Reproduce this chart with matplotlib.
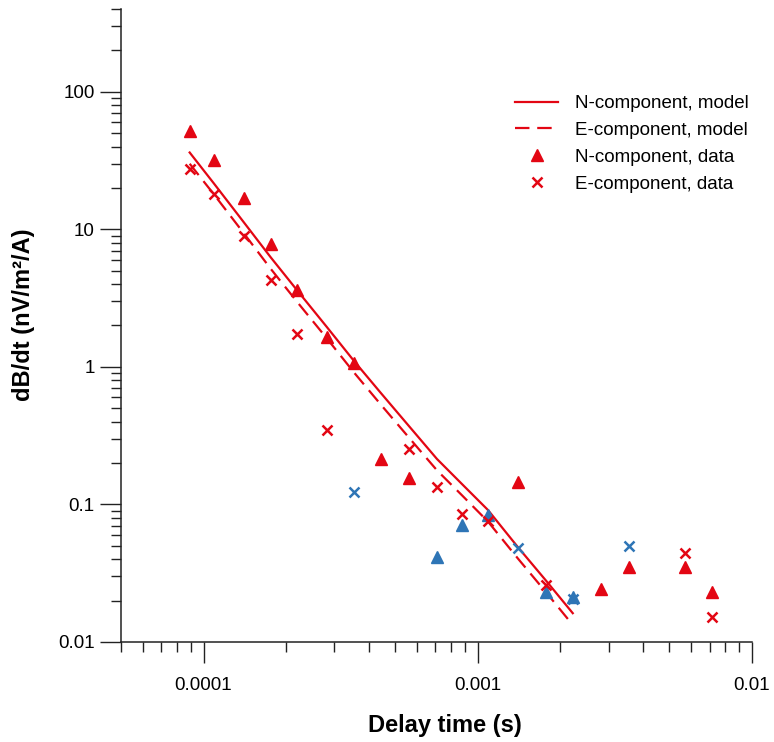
import numpy as np
import matplotlib
matplotlib.use('Agg')
import matplotlib.pyplot as plt
from matplotlib.ticker import LogLocator, FuncFormatter, NullFormatter

plt.rcParams['font.family'] = ['Liberation Sans', 'DejaVu Sans']

# delay times of the gates (s)
times = [8.9e-5, 1.09e-4, 1.40e-4, 1.76e-4, 2.20e-4, 2.81e-4, 3.53e-4, 4.42e-4,
         5.62e-4, 7.10e-4, 8.78e-4, 1.09e-3, 1.40e-3, 1.78e-3, 2.22e-3, 2.82e-3,
         3.57e-3, 5.70e-3, 7.16e-3]

# model curves (first 15 gates)
n_model = [36.2, 21.6, 11.3, 6.24, 3.58, 1.96, 1.11, 0.65, 0.37, 0.214,
           0.140, 0.091, 0.049, 0.0277, 0.0162]
e_model = [30.0, 18.0, 9.4, 5.15, 2.95, 1.62, 0.915, 0.535, 0.305, 0.177,
           0.116, 0.075, 0.0405, 0.0228, 0.0133]

# measured |dB/dt|, sign: 1 positive (red), -1 negative (blue), nan = not shown
n_data = [51.7, 31.8, 16.9, 7.8, 3.6, 1.65, 1.07, 0.214, 0.156, 0.0415,
          0.0708, 0.0838, 0.145, 0.0232, 0.0213, 0.0243, 0.035, 0.035, 0.0231]
n_sign = [1, 1, 1, 1, 1, 1, 1, 1, 1, -1, -1, -1, 1, -1, -1, 1, 1, 1, 1]
e_data = [27.4, 18.0, 8.97, 4.27, 1.73, 0.347, 0.124, np.nan, 0.251, 0.133,
          0.0859, 0.0757, 0.048, 0.026, 0.0205, np.nan, 0.0499, 0.0441, 0.0151]
e_sign = [1, 1, 1, 1, 1, 1, -1, 1, 1, 1, 1, 1, -1, 1, -1, 1, -1, 1, 1]

red = '#E30613'
blue = '#2E75B6'

t = np.array(times)
nd = np.array(n_data)
ed = np.array(e_data)
ns = np.array(n_sign)
es = np.array(e_sign)

fig = plt.figure(figsize=(7.74, 7.42), dpi=100)
ax = fig.add_axes([121/774, 1 - 642/742, (752-121)/774, (642-9)/742])

ax.plot(t[:len(n_model)], n_model, color=red, lw=1.6, label='N-component, model')
ax.plot(t[:len(e_model)], e_model, color=red, lw=1.6, dashes=(6.5, 3.5),
        label='E-component, model')
ax.plot(t[ns > 0], nd[ns > 0], ls='none', marker='^', ms=8.5, color=red,
        mec=red, label='N-component, data')
ax.plot(t[ns < 0], nd[ns < 0], ls='none', marker='^', ms=8.5, color=blue, mec=blue)
ax.plot(t[es > 0], ed[es > 0], ls='none', marker='x', ms=7.5, mew=1.8, color=red,
        label='E-component, data')
ax.plot(t[es < 0], ed[es < 0], ls='none', marker='x', ms=7.5, mew=1.8, color=blue)

ax.set_xscale('log')
ax.set_yscale('log')
ax.set_xlim(5e-5, 1e-2)
ax.set_ylim(0.01, 400)

for s in ['top', 'right']:
    ax.spines[s].set_visible(False)
for s in ['left', 'bottom']:
    ax.spines[s].set_linewidth(1.1)
    ax.spines[s].set_color('#222222')

fmt = FuncFormatter(lambda v, p: '{:g}'.format(v))
ax.xaxis.set_major_locator(LogLocator(base=10, numticks=10))
ax.yaxis.set_major_locator(LogLocator(base=10, numticks=10))
ax.xaxis.set_minor_locator(LogLocator(base=10, subs=np.arange(2, 10), numticks=20))
ax.yaxis.set_minor_locator(LogLocator(base=10, subs=np.arange(2, 10), numticks=20))
ax.xaxis.set_major_formatter(fmt)
ax.yaxis.set_major_formatter(fmt)
ax.xaxis.set_minor_formatter(NullFormatter())
ax.yaxis.set_minor_formatter(NullFormatter())
ax.tick_params(which='major', direction='out', length=15, width=1.0,
               color='#222222', labelsize=13.5)
ax.tick_params(which='minor', direction='out', length=7.5, width=1.0, color='#222222')
ax.tick_params(axis='x', which='major', pad=10)
ax.tick_params(axis='y', which='major', pad=4)

ax.set_xlabel('Delay time (s)', fontsize=17, fontweight='bold')
ax.set_ylabel('dB/dt (nV/m\u00b2/A)', fontsize=17, fontweight='bold')
ax.xaxis.set_label_coords(0.514, -0.113)
ax.yaxis.set_label_coords(-0.136, 0.517)

ax.legend(loc='upper left', bbox_to_anchor=(515/774, 1 - 95/742),
          bbox_transform=fig.transFigure, frameon=False, fontsize=13.5,
          borderpad=0, borderaxespad=0, handlelength=2.3, handletextpad=0.9,
          labelspacing=0.52)

fig.savefig('out.png', dpi=100)
